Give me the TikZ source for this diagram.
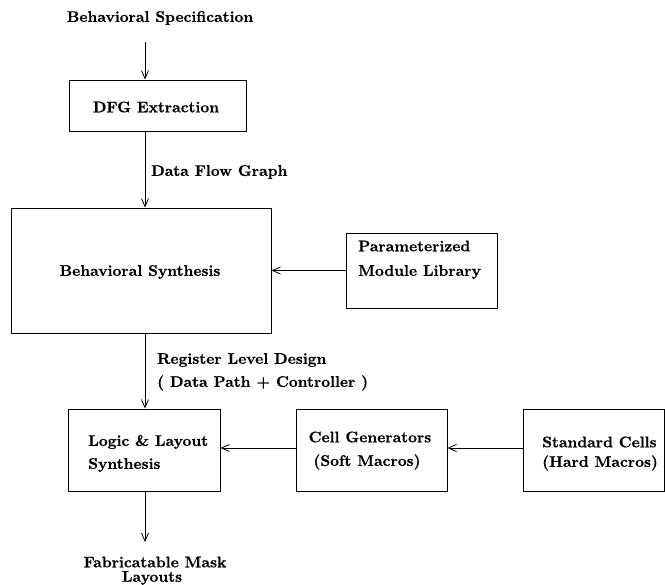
\documentclass[tikz,border=0pt]{standalone}
\usepackage{fontspec}
\newfontface\lblfont{lmroman10-bold.otf}[FakeBold=0.6]
\usetikzlibrary{arrows.meta}
\begin{document}
\begin{tikzpicture}[x=1pt,y=-1pt,
  box/.style={draw, line width=0.9pt, inner sep=0pt},
  lbl/.style={font=\lblfont\fontsize{15.4}{18}\selectfont, inner sep=0pt},
  arr/.style={line width=0.8pt, -{Straight Barb[length=8pt,width=7pt,line width=0.8pt]}}]
\useasboundingbox (0,0) rectangle (665,585);
% boxes
\node[box, minimum width=177pt, minimum height=51pt] (dfg) at (157.5,105.5) {};
\node[box, minimum width=260pt, minimum height=125pt] (bs) at (141,270.5) {};
\node[box, minimum width=151pt, minimum height=75pt] (par) at (421.5,270.5) {};
\node[box, minimum width=152pt, minimum height=82pt] (log) at (144,450) {};
\node[box, minimum width=151pt, minimum height=82pt] (cel) at (371.5,450) {};
\node[box, minimum width=141pt, minimum height=82pt] (std) at (593.5,450) {};
% texts
\node[lbl] (spec) at (160,18) {Behavioral Specification};
\node[lbl] (dfgt) at (156,107) {DFG Extraction};
\node[lbl, anchor=west] (dfgl) at (151,172) {Data Flow Graph};
\node[lbl] (bst) at (140,272) {Behavioral Synthesis};
\node[lbl, anchor=west] (par1) at (358,246) {Parameterized};
\node[lbl, anchor=west] (par2) at (358,272) {Module Library};
\node[lbl, anchor=west] (reg1) at (157,360) {Register Level Design};
\node[lbl, anchor=west] (reg2) at (157,383) {( Data Path + Controller )};
\node[lbl, anchor=west] (log1) at (88,442) {Logic \& Layout};
\node[lbl, anchor=west] (log2) at (88,465) {Synthesis};
\node[lbl] (cel1) at (370,437) {Cell Generators};
\node[lbl] (cel2) at (367,462) {(Soft Macros)};
\node[lbl, anchor=west] (std1) at (542,442) {Standard Cells};
\node[lbl, anchor=west] (std2) at (542,463) {(Hard Macros)};
\node[lbl] (fab1) at (155,562) {Fabricatable Mask};
\node[lbl] (fab2) at (152,578) {Layouts};
% connectors
\coordinate (ax) at (145,0);
\coordinate (a1) at (145,42);
\coordinate (a2) at (145,542);
\coordinate (hy) at (0,448);
\draw[arr] (a1) -- (dfg.north -| a1);
\draw[arr] (dfg.south -| ax) -- (bs.north -| ax);
\draw[arr] (bs.south -| ax) -- (log.north -| ax);
\draw[arr] (log.south -| ax) -- (a2);
\draw[arr] (par.west) -- (bs.east);
\draw[arr] (cel.west |- hy) -- (log.east |- hy);
\draw[arr] (std.west |- hy) -- (cel.east |- hy);
\end{tikzpicture}
\end{document}
